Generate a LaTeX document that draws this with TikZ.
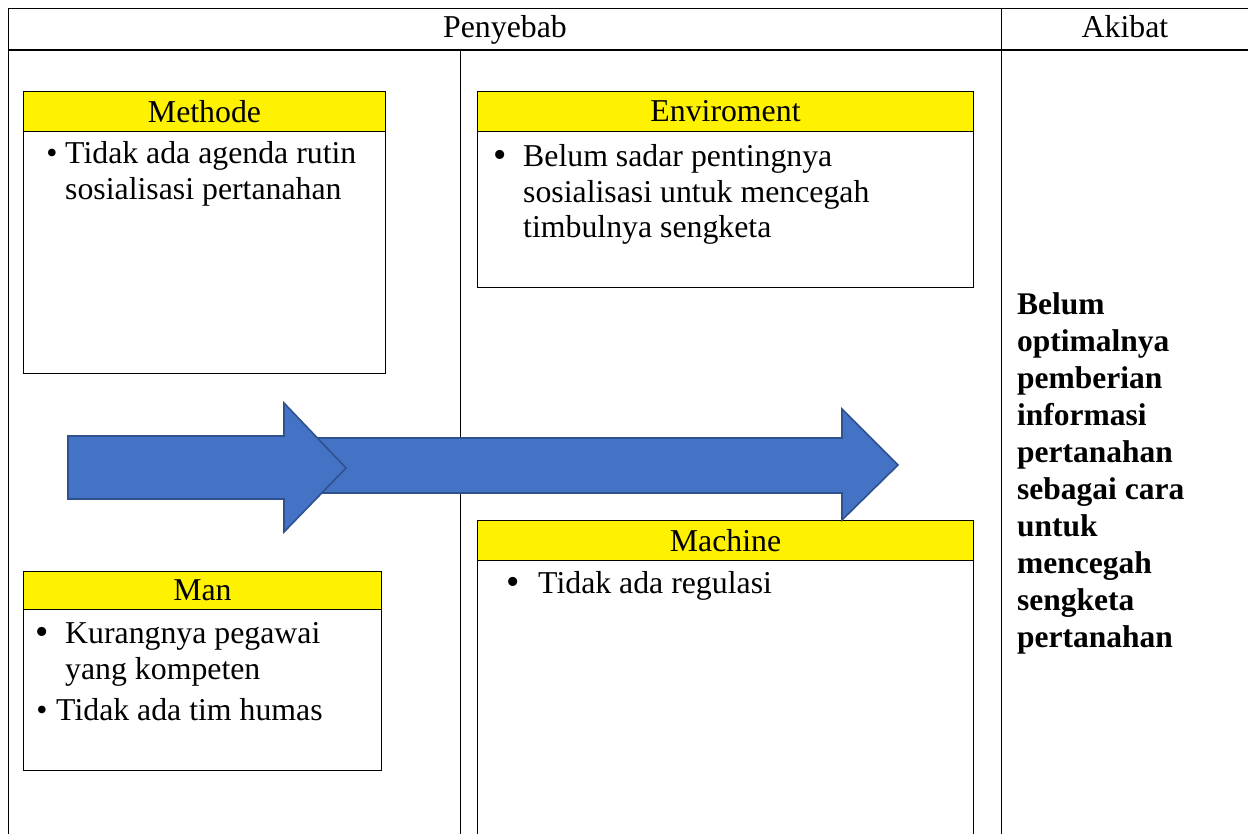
\documentclass[tikz,border=0pt]{standalone}
\usepackage{fontspec}
\setmainfont{Liberation Serif}
\definecolor{arrowfill}{HTML}{4472C4}
\definecolor{arrowline}{HTML}{2F528F}
\begin{document}
\begin{tikzpicture}[x=1pt,y=-1pt,
  tline/.style={line width=1pt},
  hdr/.style={draw=black, line width=1pt, fill=yellow, anchor=north west, inner sep=0pt,
    font=\fontsize{31.8}{36}\selectfont},
  body/.style={draw=black, line width=1pt, anchor=north west, inner sep=0pt},
  txt/.style={anchor=base west, inner sep=0pt, font=\fontsize{31.8}{36}\selectfont},
  bul/.style={anchor=base, inner sep=0pt, font=\fontsize{38}{36}\selectfont},
  smallbul/.style={anchor=base, inner sep=0pt, font=\fontsize{31.8}{36}\selectfont},
  bigarrow/.style={fill=arrowfill, draw=arrowline, line width=1.6pt, line join=miter}
]
\useasboundingbox (0,0) rectangle (1248,834);
% table
\draw[tline] (8,9) -- (1248,9);
\draw[line width=1.5pt] (8,50) -- (1248,50);
\draw[tline] (8,9) -- (8,834);
\draw[tline] (1001,9) -- (1001,834);
\draw[tline] (460,50) -- (460,834);
\node[txt, anchor=base] (penyebab) at (505,38) {Penyebab};
\node[txt, anchor=base] (akibat) at (1125,38) {Akibat};

% Methode
\node[body, minimum width=362pt, minimum height=242pt] (mbody) at (23,131) {};
\node[hdr, minimum width=362pt, minimum height=40pt] (mhead) at (23,91) {Methode};
\node[smallbul] (mb1) at (52,164) {•};
\node[txt] (mt1) at (65,164) {Tidak ada agenda rutin};
\node[txt] (mt2) at (65,200) {sosialisasi pertanahan};

% Enviroment
\node[body, minimum width=496pt, minimum height=156pt] (ebody) at (477,131) {};
\node[hdr, minimum width=496pt, minimum height=40pt] (ehead) at (477,91) {Enviroment};
\node[bul] (eb1) at (500,168) {•};
\node[txt] (et1) at (523,167) {Belum sadar pentingnya};
\node[txt] (et2) at (523,203) {sosialisasi untuk mencegah};
\node[txt] (et3) at (523,238) {timbulnya sengketa};

% Machine
\node[body, minimum width=496pt, minimum height=290pt] (cbody) at (477,560) {};
\node[hdr, minimum width=496pt, minimum height=40pt] (chead) at (477,520) {Machine};
\node[bul] (cb1) at (513,594) {•};
\node[txt] (ct1) at (538,593) {Tidak ada regulasi};

% Man
\node[body, minimum width=358pt, minimum height=161pt] (nbody) at (23,609) {};
\node[hdr, minimum width=358pt, minimum height=38pt] (nhead) at (23,571) {Man};
\node[bul] (nb1) at (42,644) {•};
\node[txt] (nt1) at (65,643) {Kurangnya pegawai};
\node[txt] (nt2) at (65,679) {yang kompeten};
\node[smallbul] (nb2) at (42,720) {•};
\node[txt] (nt3) at (56,720) {Tidak ada tim humas};

% Akibat text
\node[anchor=north west, inner sep=0pt, align=left, font=\fontsize{31.5}{37}\selectfont\bfseries] (akibattext) at (1017,292)
  {Belum\\optimalnya\\pemberian\\informasi\\pertanahan\\sebagai cara\\untuk\\mencegah\\sengketa\\pertanahan};

% arrows
\filldraw[bigarrow] (300,438) -- (842,438) -- (842,409) -- (898,465) -- (842,520) -- (842,493) -- (300,493) -- cycle;
\filldraw[bigarrow] (68,436) -- (284,436) -- (284,403) -- (346,468) -- (284,532) -- (284,499) -- (68,499) -- cycle;
\end{tikzpicture}
\end{document}
